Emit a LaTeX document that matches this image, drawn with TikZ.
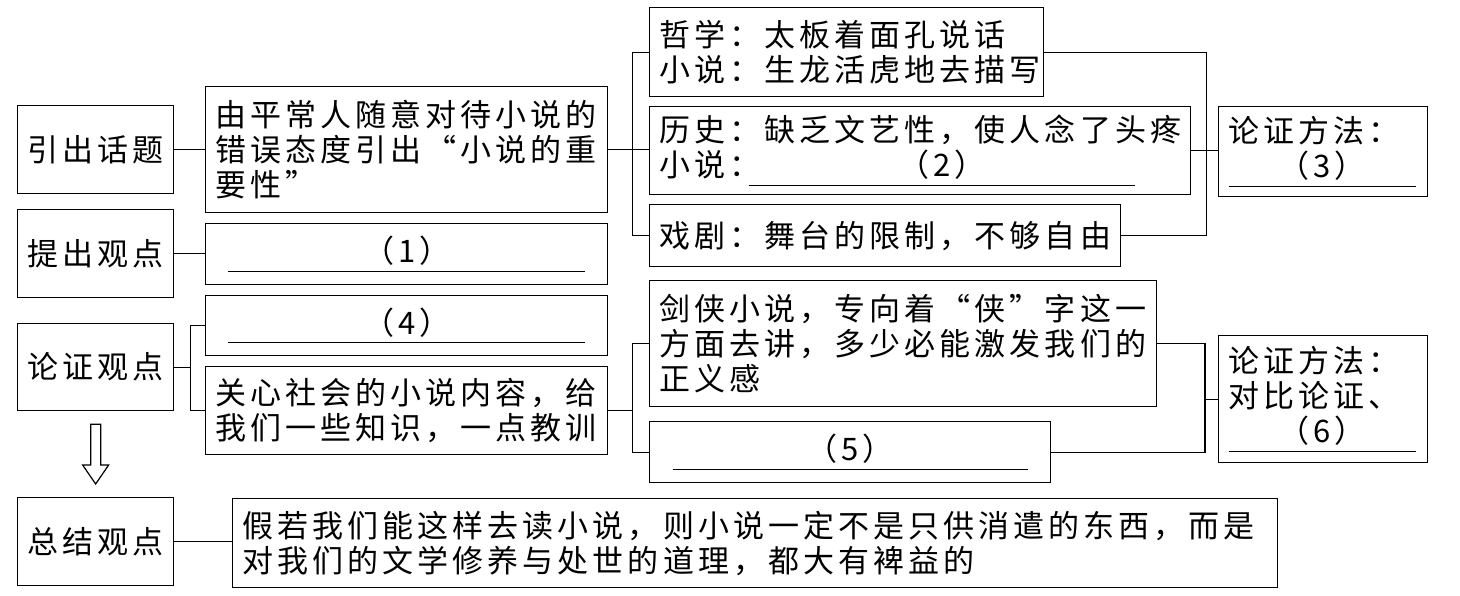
\documentclass[tikz,border=0pt]{standalone}
\usepackage{fontspec}
\newfontfamily\cjk[LetterSpace=13]{Noto Sans CJK SC}
\newcommand\fillblank[2]{\leavevmode\rlap{\rule[-9pt]{#1}{1.2pt}}\makebox[#1]{#2}}

\begin{document}
\begin{tikzpicture}[x=1pt, y=-1pt,
    font=\cjk\fontsize{31pt}{35pt}\selectfont,
    box/.style={draw, line width=1.3pt, anchor=north west, inner xsep=10pt, inner ysep=0pt, align=left},
    tag/.style={box, align=center, text width=136pt, minimum height=88pt},
    blank/.style={box, align=center, minimum height=61pt},
    link/.style={line width=1.2pt}]
  \useasboundingbox (0,0) rectangle (1460,595);
  \node[tag] (yc) at (17,105) {引出话题};
  \node[tag] (tc) at (17,209) {提出观点};
  \node[tag, minimum height=87pt] (lz) at (17,323) {论证观点};
  \node[tag] (zj) at (17,497) {总结观点};
  \node[box, text width=382pt, minimum height=126pt] (yr) at (205,86) {由平常人随意对待小说的\\错误态度引出“小说的重\\要性”};
  \node[blank, text width=382pt] (g1) at (205,223) {\fillblank{357pt}{（1）}};
  \node[blank, text width=382pt, minimum height=60pt] (g4) at (205,295) {\fillblank{357pt}{（4）}};
  \node[box, text width=382pt, minimum height=88pt] (gx) at (205,366) {关心社会的小说内容，给\\我们一些知识，一点教训};
  \node[box, text width=374pt, minimum height=89pt] (zx) at (649,7) {哲学：太板着面孔说话\\小说：生龙活虎地去描写};
  \node[box, text width=521pt, minimum height=88pt] (ls) at (649,106) {历史：缺乏文艺性，使人念了头疼\\小说：\hspace{-12pt}\fillblank{386pt}{（2）}};
  \node[box, text width=451pt, minimum height=62pt] (xj) at (649,204) {戏剧：舞台的限制，不够自由};
  \node[box, text width=189pt, minimum height=90pt] (ff1) at (1218,106) {论证方法：\\\fillblank{187pt}{（3）}};
  \node[box, text width=487pt, minimum height=126pt] (jx) at (649,280) {剑侠小说，专向着“侠”字这一\\方面去讲，多少必能激发我们的\\正义感};
  \node[blank, text width=381pt] (g5) at (649,421) {\fillblank{355pt}{（5）}};
  \node[box, text width=189pt, minimum height=127pt] (ff2) at (1218,335) {论证方法：\\对比论证、\\\fillblank{187pt}{（6）}};
  \node[box, text width=1025pt, minimum height=89pt] (jr) at (232,498) {假若我们能这样去读小说，则小说一定不是只供消遣的东西，而是\\对我们的文学修养与处世的道理，都大有裨益的};

  \draw[link] (yc.east) -- (yc.east -| yr.west);
  \draw[link] (tc.east) -- (tc.east -| g1.west);
  \draw[link] (zj.east) -- (zj.east -| jr.west);
  \draw[link] (lz.east) -- ++(16,0) coordinate (k1);
  \draw[link] (g4.west) -| (k1) |- (gx.west);
  \draw[link] (yr.east) -- ++(24,0) coordinate (k2) -- (k2 -| ls.west);
  \draw[link] (zx.west) -| (k2) |- (xj.west);
  \draw[link] (ls.east) -- ++(15,0) coordinate (k3) -- (k3 -| ff1.west);
  \draw[link] (zx.east) -| (k3) |- (xj.east);
  \draw[link] (gx.east) -- ++(24,0) coordinate (k4);
  \draw[link] (jx.west) -| (k4) |- (g5.west);
  \draw[link] (ff2.west) -- ++(-13,0) coordinate (k5);
  \draw[link] (jx.east) -| (k5) |- (g5.east);
  \draw[link] ([xshift=-5pt,yshift=-13pt]lz.south) -- ([xshift=-5pt,yshift=32pt]zj.north) -- ([xshift=-13pt,yshift=32pt]zj.north) -- ([yshift=13pt]zj.north) -- ([xshift=13pt,yshift=32pt]zj.north) -- ([xshift=5pt,yshift=32pt]zj.north) -- ([xshift=5pt,yshift=-13pt]lz.south) -- cycle;
\end{tikzpicture}
\end{document}
